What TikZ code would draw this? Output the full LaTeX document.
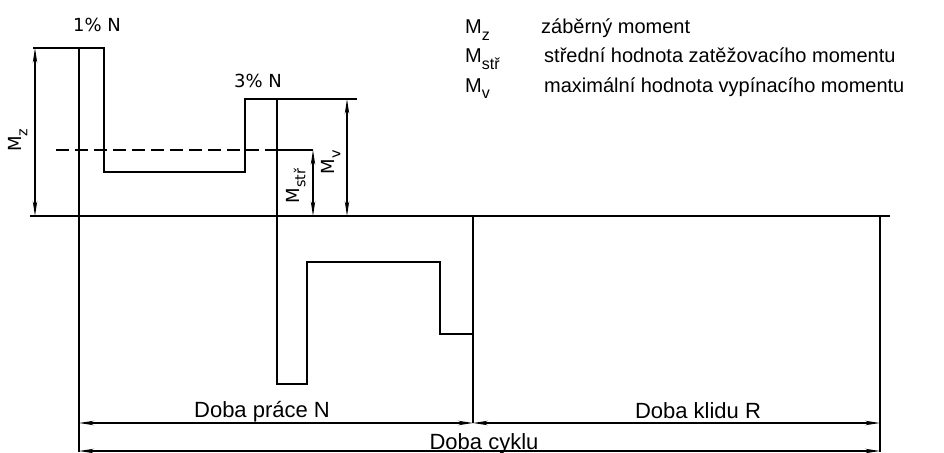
\documentclass[tikz,border=0pt]{standalone}
\usepackage{fontspec}
\setmainfont{Liberation Sans}
\newfontfamily\handfont{DejaVu Sans}
\usetikzlibrary{arrows.meta}
\newcommand{\subx}[1]{\raisebox{-0.32em}{\fontsize{0.8em}{1em}\selectfont #1}}
\begin{document}
\begin{tikzpicture}[x=1pt,y=-1pt,
  wave/.style={line width=2.5pt, line join=miter, line cap=rect},
  fine/.style={line width=1.1pt},
  dimline/.style={line width=1.1pt, {Stealth[length=15pt,width=4.5pt]}-{Stealth[length=15pt,width=4.5pt]}},
  lbl/.style={font=\handfont\fontsize{18}{20}\selectfont, inner sep=0pt},
  leg/.style={font=\fontsize{20}{22}\selectfont, inner sep=0pt, anchor=base west},
  bot/.style={font=\fontsize{22}{24}\selectfont, inner sep=0pt, anchor=base},
]
\useasboundingbox (0,0) rectangle (944,452);
\fill[white] (0,0) rectangle (944,452);

% key coordinates
\coordinate (axL) at (30,216);
\coordinate (axR) at (890,216);
\coordinate (w0) at (79,216);
\coordinate (w1) at (79,48);
\coordinate (w2) at (104,48);
\coordinate (w3) at (104,172);
\coordinate (w4) at (245,172);
\coordinate (w5) at (245,99);
\coordinate (w6) at (277,99);
\coordinate (w7) at (277,384);
\coordinate (w8) at (307,384);
\coordinate (w9) at (307,262);
\coordinate (w10) at (440,262);
\coordinate (w11) at (440,334);
\coordinate (w12) at (473,334);
\coordinate (w13) at (473,216);

% axis
\draw[fine] (axL) -- (axR);

% waveform
\draw[wave] (w0) -- (w1) -- (w2) -- (w3) -- (w4) -- (w5) -- (w6) -- (w7) -- (w8) -- (w9) -- (w10) -- (w11) -- (w12) -- (w13);

% extension lines
\coordinate (ezL) at (33,48);
\coordinate (evR) at (357,99);
\coordinate (dsL) at (56,150);
\coordinate (dsM) at (277,150);
\coordinate (dsR) at (313,150);
\draw[fine] (ezL) -- (w1);
\draw[fine] (w6) -- (evR);
\draw[fine, dash pattern=on 13pt off 6pt] (dsL) -- (dsM);
\draw[fine] (dsM) -- (dsR);

% vertical dimension arrows
\coordinate (mzT) at (35,48);
\coordinate (mzB) at (35,216);
\coordinate (msT) at (313,150);
\coordinate (msB) at (313,216);
\coordinate (mvT) at (347,99);
\coordinate (mvB) at (347,216);
\draw[dimline] (mzT) -- (mzB);
\draw[dimline] (msT) -- (msB);
\draw[dimline] (mvT) -- (mvB);

% lower extension lines
\coordinate (xL) at (79,452);
\coordinate (xM) at (473,423);
\coordinate (xRt) at (880,216);
\coordinate (xR) at (880,452);
\draw[fine] (w0) -- (xL);
\draw[fine] (w12) -- (xM);
\draw[fine] (xRt) -- (xR);

% horizontal dimension arrows
\coordinate (dpL) at (79,423);
\coordinate (dpR) at (473,423);
\coordinate (dkR) at (880,423);
\coordinate (dcL) at (79,451);
\coordinate (dcR) at (880,451);
\draw[dimline] (dpL) -- (dpR);
\draw[dimline] (dpR) -- (dkR);
\draw[dimline] (dcL) -- (dcR);

% labels on the plot
\node[lbl] (p1) at (97,25) {1\% N};
\node[lbl] (p3) at (258,81) {3\% N};
\node[lbl, rotate=90] (lz) at (18,140) {M\subx{z}};
\node[lbl, rotate=90] (ls) at (296,186) {M\subx{stř}};
\node[lbl, rotate=90] (lv) at (331,162) {M\subx{v}};

% bottom labels
\node[bot] (tp) at (262,417) {Doba práce N};
\node[bot] (tk) at (698,418) {Doba klidu R};
\node[bot] (tc) at (484,449) {Doba cyklu};

% legend
\node[leg] (k1) at (465,34) {M\subx{z}};
\node[leg] (k2) at (465,63) {M\subx{stř}};
\node[leg] (k3) at (465,92) {M\subx{v}};
\node[leg] (t1) at (541,34) {záběrný moment};
\node[leg] (t2) at (544,63) {střední hodnota zatěžovacího momentu};
\node[leg] (t3) at (544,92) {maximální hodnota vypínacího momentu};
\end{tikzpicture}
\end{document}
